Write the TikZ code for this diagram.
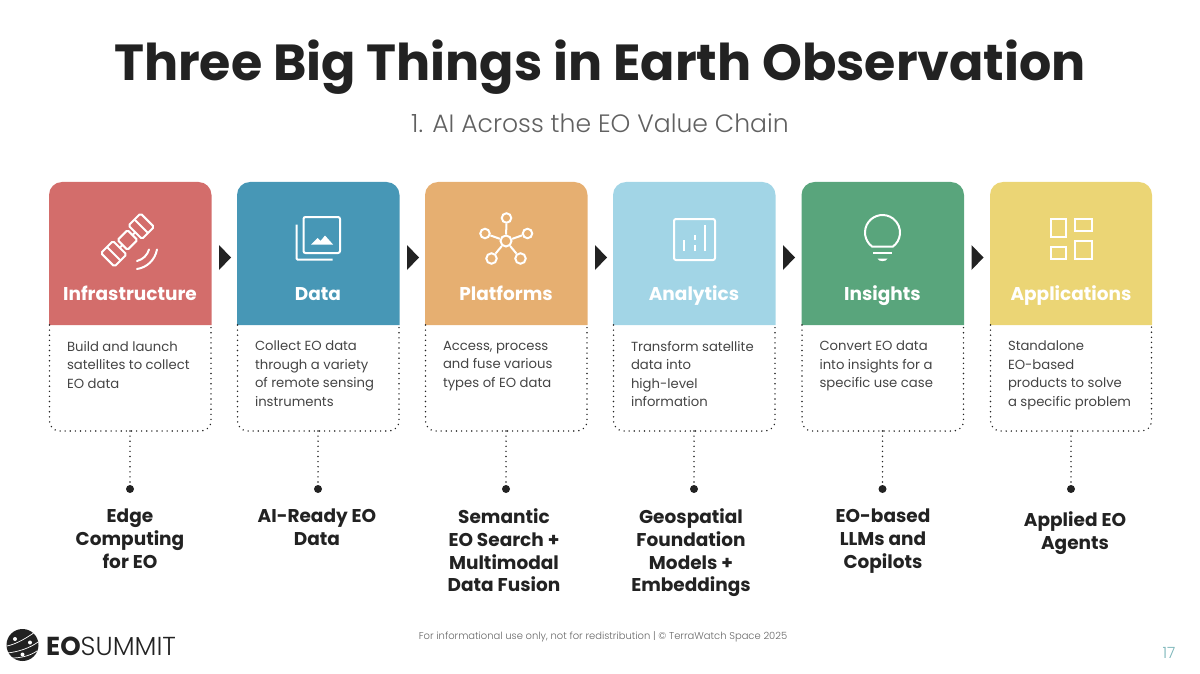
\documentclass[tikz,border=0pt]{standalone}
\usepackage{fontspec}
\setmainfont{Poppins}[UprightFont=* Light, BoldFont=* Bold]
\newfontfamily\popreg{Poppins}
\usepackage{tikz}
\usetikzlibrary{calc}
\definecolor{inkdark}{HTML}{222222}
\definecolor{inkbody}{HTML}{444444}
\definecolor{redcard}{HTML}{D36D6B}
\definecolor{bluecard}{HTML}{4797B6}
\definecolor{orangecard}{HTML}{E6AF71}
\definecolor{skycard}{HTML}{A2D5E6}
\definecolor{greencard}{HTML}{59A57C}
\definecolor{yellowcard}{HTML}{EBD575}
\definecolor{pageteal}{HTML}{79B4B8}
\tikzset{
  headtext/.style={anchor=base, text=white, font=\fontsize{18.5}{20}\selectfont\bfseries},
  bodytext/.style={anchor=north west, inner sep=0, outer sep=0, text=inkbody, align=left, font=\fontsize{13.2}{18.5}\selectfont\popreg, execute at begin node=\strut},
  goaltext/.style={anchor=north, inner sep=0, outer sep=0, text=inkdark, align=center, font=\fontsize{18.5}{22.7}\selectfont\bfseries, execute at begin node=\strut},
  dotline/.style={inkdark, line width=1.6pt, line cap=round, dash pattern=on 0pt off 5.1pt},
  dotmark/.style={circle, fill=inkdark, inner sep=0, outer sep=0, minimum size=8pt},
  icon/.style={white, line width=2pt}
}
\begin{document}
\begin{tikzpicture}[x=1pt,y=-1pt]
  \useasboundingbox (0,0) rectangle (1200,674);

  \node [anchor=base, text=inkdark, inner sep=0, font=\fontsize{50.7}{60}\selectfont\bfseries] (title) at (600,81) {Three Big Things in Earth Observation};
  \node [text=black!62, inner sep=0, font=\fontsize{25.1}{30}\selectfont] (subtitle) at (600,123) {1. AI Across the EO Value Chain};

  % cards
  \fill [redcard] (49,325) [rounded corners=13pt] -- (49,182) -- (211.5,182) [sharp corners] -- (211.5,325) -- cycle;
  \fill [bluecard] (237,325) [rounded corners=13pt] -- (237,182) -- (399.5,182) [sharp corners] -- (399.5,325) -- cycle;
  \fill [orangecard] (425,325) [rounded corners=13pt] -- (425,182) -- (587.5,182) [sharp corners] -- (587.5,325) -- cycle;
  \fill [skycard] (613,325) [rounded corners=13pt] -- (613,182) -- (775.5,182) [sharp corners] -- (775.5,325) -- cycle;
  \fill [greencard] (801.5,325) [rounded corners=13pt] -- (801.5,182) -- (964,182) [sharp corners] -- (964,325) -- cycle;
  \fill [yellowcard] (990,325) [rounded corners=13pt] -- (990,182) -- (1152,182) [sharp corners] -- (1152,325) -- cycle;

  \draw [dotline, rounded corners=10pt] (49.5,325) -- (49.5,431) -- (211,431) -- (211,325);
  \draw [dotline, rounded corners=10pt] (237.5,325) -- (237.5,431) -- (399,431) -- (399,325);
  \draw [dotline, rounded corners=10pt] (425.5,325) -- (425.5,431) -- (587,431) -- (587,325);
  \draw [dotline, rounded corners=10pt] (613.5,325) -- (613.5,431) -- (775,431) -- (775,325);
  \draw [dotline, rounded corners=10pt] (802,325) -- (802,431) -- (963.5,431) -- (963.5,325);
  \draw [dotline, rounded corners=10pt] (990.5,325) -- (990.5,431) -- (1151.5,431) -- (1151.5,325);

  % triangles between the cards
  \fill [inkdark] (219,245) -- (231,257.5) -- (219,270) -- cycle;
  \fill [inkdark] (407,245) -- (419,257.5) -- (407,270) -- cycle;
  \fill [inkdark] (595,245) -- (607,257.5) -- (595,270) -- cycle;
  \fill [inkdark] (783,245) -- (795,257.5) -- (783,270) -- cycle;
  \fill [inkdark] (971.5,245) -- (983.5,257.5) -- (971.5,270) -- cycle;

  \node [headtext] (infrahead) at (130,300) {Infrastructure};
  \node [headtext] (datahead) at (318,300) {Data};
  \node [headtext] (platformhead) at (506,300) {Platforms};
  \node [headtext] (analyticshead) at (694,300) {Analytics};
  \node [headtext] (insighthead) at (882.5,300) {Insights};
  \node [headtext] (apphead) at (1071,300) {Applications};

  \node [bodytext] (infrabody) at (67,341) {Build and launch\\satellites to collect\\EO data};
  \node [bodytext] (databody) at (255,341) {Collect EO data\\through a variety\\of remote sensing\\instruments};
  \node [bodytext] (platformbody) at (443,341) {Access, process\\and fuse various\\types of EO data};
  \node [bodytext] (analyticsbody) at (631,341) {Transform satellite\\data into\\high-level\\information};
  \node [bodytext] (insightbody) at (819.5,341) {Convert EO data\\into insights for a\\specific use case};
  \node [bodytext] (appbody) at (1008,341) {Standalone\\EO-based\\products to solve\\a specific problem};

  % lower ends of the cards and the dots below them
  \coordinate (infrabase) at (130,431);
  \coordinate (database) at (318,431);
  \coordinate (platformbase) at (506,431);
  \coordinate (analyticsbase) at (694,431);
  \coordinate (insightbase) at (882.5,431);
  \coordinate (appbase) at (1071,431);

  \node [dotmark] (infradot) at (130,489) {};
  \node [dotmark] (datadot) at (318,489) {};
  \node [dotmark] (platformdot) at (506,489) {};
  \node [dotmark] (analyticsdot) at (694,489) {};
  \node [dotmark] (insightdot) at (882.5,489) {};
  \node [dotmark] (appdot) at (1071,489) {};

  \draw [dotline] (infrabase) -- (infradot);
  \draw [dotline] (database) -- (datadot);
  \draw [dotline] (platformbase) -- (platformdot);
  \draw [dotline] (analyticsbase) -- (analyticsdot);
  \draw [dotline] (insightbase) -- (insightdot);
  \draw [dotline] (appbase) -- (appdot);

  \node [goaltext] (infragoal) at (130,509) {Edge\\Computing\\for EO};
  \node [goaltext] (datagoal) at (317,509) {AI-Ready EO\\Data};
  \node [goaltext] (platformgoal) at (504,509) {Semantic\\EO Search +\\Multimodal\\Data Fusion};
  \node [goaltext] (analyticsgoal) at (691,509) {Geospatial\\Foundation\\Models +\\Embeddings};
  \node [goaltext] (insightgoal) at (883,509) {EO-based\\LLMs and\\Copilots};
  \node [goaltext] (appgoal) at (1075,511.5) {Applied EO\\Agents};

  % satellite
  \begin{scope}[shift={(127.5,240)}, rotate=45, icon]
    \draw [rounded corners=1.5pt] (-28,-9.5) rectangle (-11,9.5);
    \draw [rounded corners=1.5pt] (11,-9.5) rectangle (28,9.5);
    \draw [rounded corners=1.5pt] (-7,-7) rectangle (7,7);
    \draw (-19.5,-9.5) -- (-19.5,9.5);
    \draw (19.5,-9.5) -- (19.5,9.5);
    \draw (-11,0) -- (-7,0);
    \draw (7,0) -- (11,0);
  \end{scope}
  \draw [icon, line cap=round] (137,261) .. controls (143,259.5) and (147.5,255) .. (149,249.5);
  \draw [icon, line cap=round] (137,269) .. controls (147,267.5) and (155,260) .. (157,249.5);

  % pictures
  \draw [icon, rounded corners=2pt] (303.5,217) rectangle (340,253);
  \draw [icon, rounded corners=1pt] (296.5,224.5) -- (296.5,259.5) -- (332.5,259.5);
  \fill [white] (311,244.5) -- (317.5,238) -- (320.5,241) -- (325,235.5) -- (333,244.5) -- cycle;

  % network
  \node [draw=white, line width=2pt, circle, minimum size=11pt, inner sep=0] (hubnode) at (506,241) {};
  \node [draw=white, line width=2pt, circle, minimum size=9.5pt, inner sep=0] (topnode) at (506.5,218) {};
  \node [draw=white, line width=2pt, circle, minimum size=9.5pt, inner sep=0] (leftnode) at (485,233.5) {};
  \node [draw=white, line width=2pt, circle, minimum size=9.5pt, inner sep=0] (rightnode) at (527.5,233.5) {};
  \node [draw=white, line width=2pt, circle, minimum size=10.5pt, inner sep=0] (lownode) at (491.5,258.5) {};
  \node [draw=white, line width=2pt, circle, minimum size=10.5pt, inner sep=0] (highnode) at (520.5,258.5) {};
  \draw [icon] (hubnode) -- (topnode);
  \draw [icon] (hubnode) -- (leftnode);
  \draw [icon] (hubnode) -- (rightnode);
  \draw [icon] (hubnode) -- (lownode);
  \draw [icon] (hubnode) -- (highnode);

  % chart
  \draw [icon, rounded corners=2pt] (674,219) rectangle (715,260);
  \draw [icon] (684,240) -- (684,251);
  \draw [icon] (694.5,235) -- (694.5,239.5);
  \draw [icon] (694.5,245) -- (694.5,251);
  \draw [icon] (705,225) -- (705,251);

  % bulb
  \draw [icon] (872,246.5) arc (233.1:-53.1:17.5pt) -- cycle;
  \draw [icon] (873,252.5) -- (892,252.5);
  \fill [white] (877.5,258.5) -- (887.5,258.5) .. controls (887,262) and (878,262) .. (877.5,258.5) -- cycle;

  % tiles
  \draw [icon] (1050.5,219) rectangle (1065.5,237);
  \draw [icon] (1075,219) rectangle (1091.5,231);
  \draw [icon] (1050.5,247) rectangle (1065.5,259);
  \draw [icon] (1075,241) rectangle (1091.5,259);

  % logo
  \fill [inkdark] (22.5,645) circle (16pt);
  \draw [white, line width=0.7pt] (7,646) .. controls (17,644) and (28,637) .. (35,632);
  \draw [white, line width=0.7pt] (7,653) .. controls (18,652) and (30,648) .. (38,642);
  \draw [white, line width=0.7pt] (12,658) .. controls (20,658) and (30,656) .. (37,651);
  \fill [white] (15,639) circle (2pt);
  \fill [white] (30,642.5) circle (2pt);
  \fill [white] (22.5,654.5) circle (2pt);
  \node [anchor=west, inner sep=0, text=inkdark, font=\fontsize{26}{30}\selectfont] (logotext) at (46,646) {\textbf{EO}SUMMIT};

  \node [text=black!60, inner sep=0, font=\fontsize{9.96}{12}\selectfont] (footer) at (603,637) {For informational use only, not for redistribution | © TerraWatch Space 2025};
  \node [text=pageteal, inner sep=0, font=\fontsize{15.5}{16}\selectfont] (pagenum) at (1169,653) {17};
\end{tikzpicture}
\end{document}
